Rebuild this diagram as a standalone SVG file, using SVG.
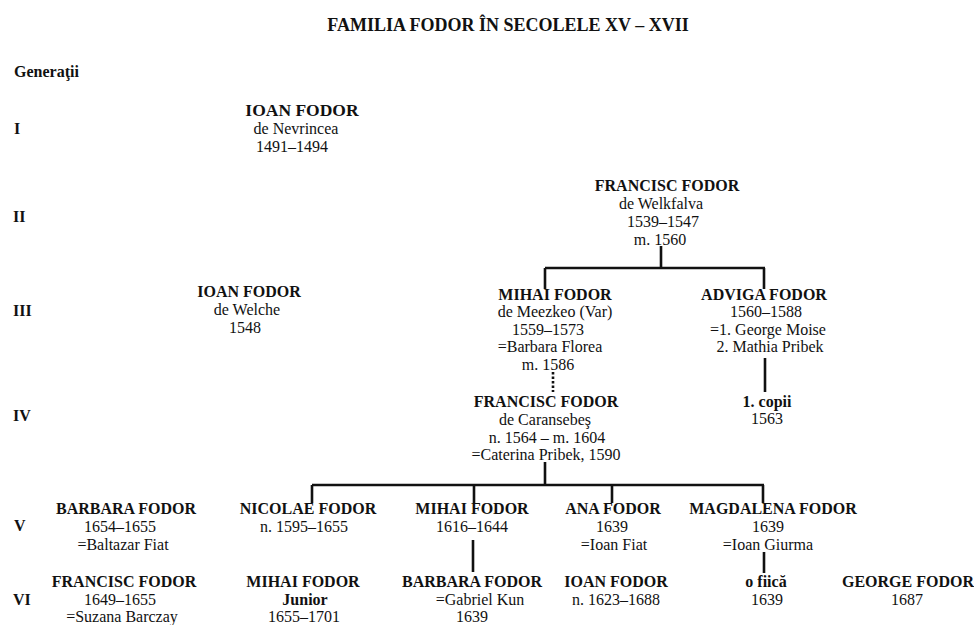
<svg xmlns="http://www.w3.org/2000/svg" width="974" height="625" viewBox="0 0 974 625">
<style>
text{font-family:"Liberation Serif","Times New Roman",serif;font-size:16px;fill:#111;text-anchor:middle}
.b{font-weight:bold}
.lbl{text-anchor:start;font-weight:bold}
.title{font-size:18px;font-weight:bold}
.big{font-size:17.5px}
.ln{stroke:#111;stroke-width:2.6;fill:none}
.dot{stroke:#111;stroke-width:2.6;fill:none;stroke-dasharray:2.5 2}
</style>
<rect width="974" height="625" fill="#fff"/>
<text class="title" x="508" y="31">FAMILIA FODOR ÎN SECOLELE XV – XVII</text>
<g id="generations">
<text class="lbl" x="14" y="77">Generaţii</text>
<text class="lbl" x="14" y="134">I</text>
<text class="lbl" x="13" y="222">II</text>
<text class="lbl" x="13" y="316">III</text>
<text class="lbl" x="13" y="421">IV</text>
<text class="lbl" x="14" y="531">V</text>
<text class="lbl" x="13" y="605">VI</text>
</g>
<g id="connectors">
<path class="ln" d="M661 246V268M545 268H765M545 268V289M764 268V289"/>
<path class="dot" d="M553 372V392"/>
<path class="ln" d="M765 358V392"/>
<path class="ln" d="M545 462V485M312 485H764M312 485V503M474 485V503M612 485V503M763 485V503"/>
<path class="ln" d="M473 540V572"/>
<path class="ln" d="M764 552V573"/>
</g>
<g id="ioan-nevrincea">
<text class="b big" x="302" y="116">IOAN FODOR</text>
<text x="296" y="134">de Nevrincea</text>
<text x="292" y="152">1491–1494</text>
</g>
<g id="francisc-welkfalva">
<text class="b" x="667" y="191">FRANCISC FODOR</text>
<text x="661" y="209">de Welkfalva</text>
<text x="663" y="227">1539–1547</text>
<text x="660" y="245">m. 1560</text>
</g>
<g id="ioan-welche">
<text class="b" x="249" y="297">IOAN FODOR</text>
<text x="247" y="315">de Welche</text>
<text x="245" y="333">1548</text>
</g>
<g id="mihai-meezkeo">
<text class="b" x="555" y="300">MIHAI FODOR</text>
<text x="555" y="317">de Meezkeo (Var)</text>
<text x="548" y="335">1559–1573</text>
<text x="550" y="352">=Barbara Florea</text>
<text x="548" y="370">m. 1586</text>
</g>
<g id="adviga">
<text class="b" x="764" y="300">ADVIGA FODOR</text>
<text x="766" y="317">1560–1588</text>
<text x="768" y="335">=1. George Moise</text>
<text x="770" y="352">2. Mathia Pribek</text>
</g>
<g id="copii">
<text class="b" x="767" y="407">1. copii</text>
<text x="767" y="424">1563</text>
</g>
<g id="francisc-caransebes">
<text class="b" x="546" y="407">FRANCISC FODOR</text>
<text x="545" y="425">de Caransebeş</text>
<text x="547" y="443">n. 1564 – m. 1604</text>
<text x="546" y="460">=Caterina Pribek, 1590</text>
</g>
<g id="barbara-v">
<text class="b" x="126" y="514">BARBARA FODOR</text>
<text x="120" y="532">1654–1655</text>
<text x="123" y="550">=Baltazar Fiat</text>
</g>
<g id="nicolae">
<text class="b" x="308" y="514">NICOLAE FODOR</text>
<text x="304" y="532">n. 1595–1655</text>
</g>
<g id="mihai-v">
<text class="b" x="472" y="514">MIHAI FODOR</text>
<text x="472" y="532">1616–1644</text>
</g>
<g id="ana">
<text class="b" x="613" y="514">ANA FODOR</text>
<text x="612" y="532">1639</text>
<text x="614" y="550">=Ioan Fiat</text>
</g>
<g id="magdalena">
<text class="b" x="773" y="514">MAGDALENA FODOR</text>
<text x="768" y="532">1639</text>
<text x="768" y="550">=Ioan Giurma</text>
</g>
<g id="francisc-vi">
<text class="b" x="124" y="587">FRANCISC FODOR</text>
<text x="120" y="605">1649–1655</text>
<text x="122" y="622">=Suzana Barczay</text>
</g>
<g id="mihai-junior">
<text class="b" x="303" y="587">MIHAI FODOR</text>
<text class="b" x="305" y="605">Junior</text>
<text x="304" y="622">1655–1701</text>
</g>
<g id="barbara-vi">
<text class="b" x="472" y="587">BARBARA FODOR</text>
<text x="480" y="605">=Gabriel Kun</text>
<text x="472" y="622">1639</text>
</g>
<g id="ioan-vi">
<text class="b" x="616" y="587">IOAN FODOR</text>
<text x="616" y="605">n. 1623–1688</text>
</g>
<g id="o-fiica">
<text class="b" x="766" y="587">o fiică</text>
<text x="767" y="605">1639</text>
</g>
<g id="george">
<text class="b" x="908" y="587">GEORGE FODOR</text>
<text x="907" y="605">1687</text>
</g>
</svg>
